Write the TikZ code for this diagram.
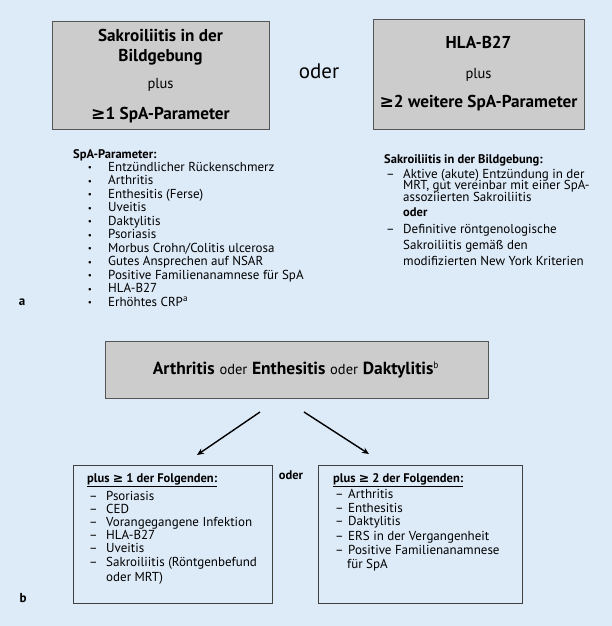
\documentclass[tikz,border=0pt]{standalone}
\usepackage{fontspec}
\setmainfont{PT Sans}
\newfontfamily\symf{DejaVu Sans}
\usetikzlibrary{arrows.meta}
\definecolor{bgblue}{HTML}{DDEAF7}
\definecolor{boxgray}{HTML}{CCCCCC}
\definecolor{edge}{HTML}{555555}
\newcommand{\mygeq}{{\symf ≥}}
\begin{document}
\begin{tikzpicture}[x=1pt,y=-1pt,
  graybox/.style={draw=edge, fill=boxgray, line width=0.8pt, inner sep=0pt},
  listbox/.style={draw=black!75, line width=0.8pt, inner sep=0pt},
  ln/.style={inner sep=0pt, anchor=west, text height=9.5pt, text depth=3pt, font=\fontsize{13}{15}\selectfont},
  bul/.style={inner sep=0pt, anchor=center, font=\fontsize{9}{10}\selectfont},
  hd/.style={ln, font=\fontsize{12.5}{15}\selectfont\bfseries},
  ttl/.style={inner sep=0pt, anchor=center, font=\fontsize{17.2}{20}\selectfont\bfseries},
  pl/.style={inner sep=0pt, anchor=center, font=\fontsize{14.5}{17}\selectfont},
  arr/.style={line width=1.4pt, -{Stealth[length=7pt,width=6pt]}}]
\fill[bgblue] (0,0) rectangle (612,626);
\useasboundingbox (0,0) rectangle (612,626);

% ---- part a: top boxes
\node[graybox, minimum width=217pt, minimum height=108pt] (boxA) at (160.5,75) {};
\node[ttl] (a1) at (160.5,35) {Sakroiliitis in der};
\node[ttl] (a2) at (160.5,57) {Bildgebung};
\node[pl]  (a3) at (160.5,85) {plus};
\node[ttl] (a4) at (160.5,115) {\mygeq1 SpA-Parameter};

\node[inner sep=0pt, font=\fontsize{21}{24}\selectfont] (oderA) at (319,71) {oder};

\node[graybox, minimum width=211pt, minimum height=110pt] (boxB) at (478.5,74) {};
\node[ttl] (b1) at (478.5,42) {HLA-B27};
\node[pl]  (b2) at (478.5,75) {plus};
\node[ttl] (b3) at (478.5,103) {\mygeq2 weitere SpA-Parameter};

% ---- SpA parameter list
\node[hd] (spah) at (73,155) {SpA-Parameter:};
\foreach \t [count=\i] in {Entzündlicher Rückenschmerz, Arthritis, Enthesitis (Ferse), Uveitis, Daktylitis, Psoriasis, Morbus Crohn/Colitis ulcerosa, Gutes Ansprechen auf NSAR, Positive Familienanamnese für SpA, HLA-B27}{
  \node[bul] (sb\i) at (90,{155+13.5*\i}) {•};
  \node[ln] (st\i) at (108,{154.5+13.5*\i}) {\t};
}
\node[bul] (sb11) at (90,303.5) {•};
\node[ln] (st11) at (108,303) {Erhöhtes CRP\textsuperscript{a}};

% ---- Sakroiliitis list
\node[hd] (sakh) at (384,160) {Sakroiliitis in der Bildgebung:};
\node[ln] (sd1) at (386,175) {--};
\node[ln] (sk1) at (403,175) {Aktive (akute) Entzündung in der};
\node[ln] (sk2) at (403,186.5) {MRT, gut vereinbar mit einer SpA-};
\node[ln] (sk3) at (403,198) {assoziierten Sakroiliitis};
\node[hd] (sk4) at (403,213) {oder};
\node[ln] (sd2) at (386,230) {--};
\node[ln] (sk5) at (403,230) {Definitive röntgenologische};
\node[ln] (sk6) at (403,246.5) {Sakroiliitis gemäß den};
\node[ln] (sk7) at (403,262.5) {modifizierten New York Kriterien};

\node[inner sep=0pt, font=\fontsize{13}{15}\selectfont\bfseries] (la) at (22,302) {a};

% ---- part b
\node[graybox, minimum width=383pt, minimum height=57pt] (boxC) at (296.5,369.5) {};
\node[inner sep=0pt, font=\fontsize{17.5}{20}\selectfont] (ctext) at (296,370)
  {\textbf{Arthritis} {\fontsize{14.5}{17}\selectfont oder} \textbf{Enthesitis} {\fontsize{14.5}{17}\selectfont oder} \textbf{Daktylitis}\textsuperscript{\fontsize{9.5}{11}\selectfont b}};

\coordinate (s1) at (260,412);
\coordinate (e1) at (197,455);
\coordinate (s2) at (304,412);
\coordinate (e2) at (369,454);
\draw[arr] (s1) -- (e1);
\draw[arr] (s2) -- (e2);

\node[listbox, minimum width=199pt, minimum height=138pt] (boxL) at (172.5,534) {};
\node[listbox, minimum width=204pt, minimum height=138pt] (boxR) at (420,534) {};
\node[inner sep=0pt, font=\fontsize{12.5}{15}\selectfont\bfseries] (oderB) at (291,475) {oder};

\node[hd] (lh) at (87,479) {\underline{plus \mygeq\ 1 der Folgenden:}};
\foreach \t/\y [count=\i] in {Psoriasis/497, CED/510, Vorangegangene Infektion/523, HLA-B27/536, Uveitis/549, Sakroiliitis (Röntgenbefund/563}{
  \node[ln] (ld\i) at (89,\y) {--};
  \node[ln] (lt\i) at (106,\y) {\t};
}
\node[ln] (lt7) at (106,578) {oder MRT)};

\node[hd] (rh) at (333,479) {\underline{plus \mygeq\ 2 der Folgenden:}};
\foreach \t/\y [count=\i] in {Arthritis/495, Enthesitis/509, Daktylitis/522, ERS in der Vergangenheit/537, Positive Familienanamnese/551}{
  \node[ln] (rd\i) at (335,\y) {--};
  \node[ln] (rt\i) at (348,\y) {\t};
}
\node[ln] (rt6) at (347,565) {für SpA};

\node[inner sep=0pt, font=\fontsize{13}{15}\selectfont\bfseries] (lb) at (23,598) {b};
\end{tikzpicture}
\end{document}
